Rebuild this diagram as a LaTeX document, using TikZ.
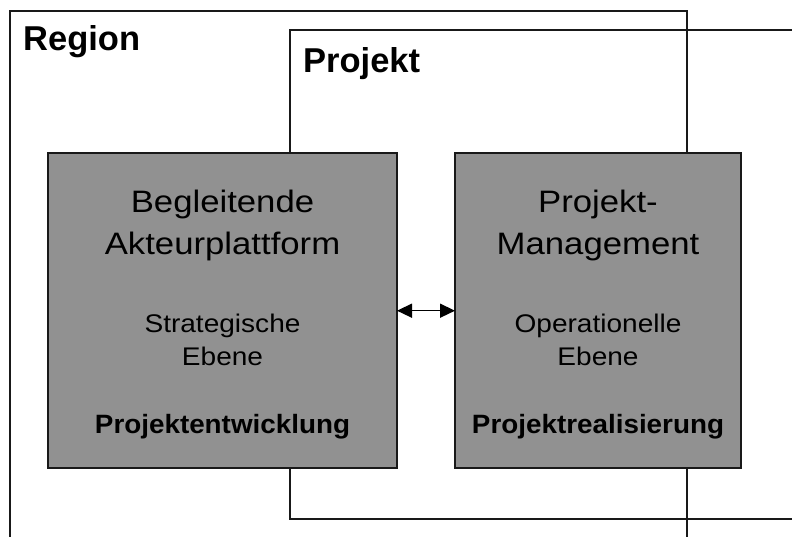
\documentclass[tikz,border=0pt]{standalone}
\usepackage{fontspec}
\setmainfont{Liberation Sans}
\newfontfamily\boxfont[FakeStretch=1.12]{Liberation Sans}
\newfontfamily\smallfont[FakeStretch=1.1]{Liberation Sans}
\newfontfamily\keyfont[FakeStretch=1.05]{Liberation Sans}
\usetikzlibrary{arrows.meta}
\definecolor{boxgray}{RGB}{145,145,145}
\definecolor{edgeblack}{RGB}{25,25,25}
\tikzset{
  frame/.style={draw=edgeblack},
  levelbox/.style={draw=edgeblack, fill=boxgray, line width=1.5pt},
  title/.style={anchor=base west, inner sep=0pt, font=\bfseries\fontsize{34.5}{40}\selectfont},
  headline/.style={anchor=base, inner sep=0pt, font=\boxfont\fontsize{31}{37}\selectfont},
  subline/.style={anchor=base, inner sep=0pt, font=\smallfont\fontsize{25.5}{30}\selectfont},
  keyline/.style={anchor=base, inner sep=0pt, font=\keyfont\bfseries\fontsize{26.5}{31}\selectfont},
  link/.style={line width=1.5pt, {Triangle[length=15pt,width=14pt]}-{Triangle[length=15pt,width=14pt]}}
}
\begin{document}
\begin{tikzpicture}[x=1pt, y=-1pt]
\useasboundingbox (0,0) rectangle (792,536);
% outer frames
\draw[frame, line width=2pt] (687,560) -- (687,11) -- (10,11) -- (10,560);
\draw[frame, line width=1.3pt] (800,30) -- (290,30) -- (290,519) -- (800,519);
\node[title] (region) at (23,50.7) {Region};
\node[title] (projekt) at (303,72) {Projekt};
% the two level boxes
\draw[levelbox] (48,153) rectangle (397,468);
\draw[levelbox] (455,153) rectangle (741,468);
\coordinate (leftE) at (397,310.7);
\coordinate (rightW) at (455,310.7);
% left box text
\node[headline] (l1) at (222.5,212.7) {Begleitende};
\node[headline] (l2) at (222.5,254.3) {Akteurplattform};
\node[subline] (l3) at (222.5,332.3) {Strategische};
\node[subline] (l4) at (222.5,365) {Ebene};
\node[keyline] (l5) at (222.5,433.3) {Projektentwicklung};
% right box text
\node[headline] (r1) at (598,212.7) {Projekt-};
\node[headline] (r2) at (598,254.3) {Management};
\node[subline] (r3) at (598,332.3) {Operationelle};
\node[subline] (r4) at (598,365) {Ebene};
\node[keyline] (r5) at (598,433.3) {Projektrealisierung};
% link between the levels
\draw[link] (leftE) -- (rightW);
\end{tikzpicture}
\end{document}
